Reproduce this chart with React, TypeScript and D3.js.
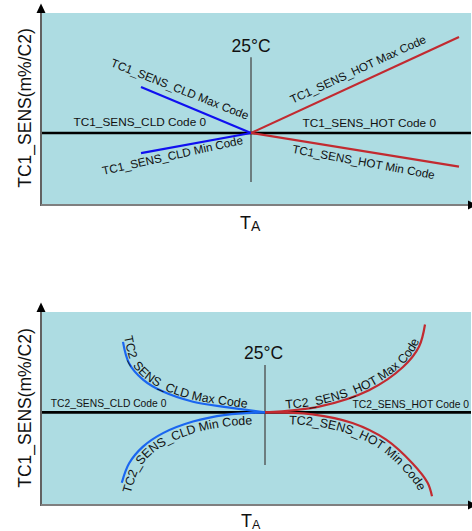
import React, { useEffect, useRef } from 'react';
import * as d3 from 'd3';

const W = 472;
const H = 531;
const FONT = "'Liberation Sans', Arial, Helvetica, sans-serif";

// ---------- Top chart (TC1) data : temperature (°C) vs sensitivity (arbitrary units)
const tc1CldTemps = [-30, 25];
const tc1CldMax = [0.48, 0];
const tc1CldMin = [-0.21, 0];
const tc1HotTemps = [25, 129];
const tc1HotMax = [0, 1.0];
const tc1HotMin = [0, -0.35];

// ---------- Bottom chart (TC2) data
const tc2CldMaxTemps = [-46, -43, -36, -26, -11, 5.5, 25];
const tc2CldMax = [0.73, 0.51, 0.34, 0.215, 0.11, 0.054, 0];
const tc2CldMinTemps = [-46.6, -43, -36, -26, -11, 5.5, 25];
const tc2CldMin = [-0.73, -0.53, -0.355, -0.215, -0.095, -0.026, 0];
const tc2HotMaxTemps = [25, 52, 77, 94, 102, 105];
const tc2HotMax = [0, 0.06, 0.23, 0.47, 0.68, 0.91];
const tc2HotMinTemps = [25, 48.7, 68.7, 85.4, 98.8, 106.3, 108.5];
const tc2HotMin = [0, -0.02, -0.11, -0.28, -0.53, -0.73, -0.87];

const refTemp = 25;
const refLabel = '25°C';
const yLabel = 'TC1_SENS(m%/C2)';

const C_BG = '#addce2';
const C_BLUE1 = '#1010f0';
const C_BLUE2 = '#1a66f0';
const C_RED = '#c22a30';

type Sel = d3.Selection<SVGGElement, unknown, null, undefined>;

function zip(xs: number[], ys: number[]): [number, number][] {
  return xs.map((x, i) => [x, ys[i]]);
}

function offsetPathD(node: SVGPathElement, d: number, ext: number): string {
  const L = node.getTotalLength();
  const pts: { x: number; y: number }[] = [];
  for (let s = 0; s <= L; s += 1) pts.push(node.getPointAtLength(s));
  pts.push(node.getPointAtLength(L));
  const out: [number, number][] = [];
  for (let i = 0; i < pts.length; i++) {
    const a = pts[Math.max(0, i - 2)];
    const b = pts[Math.min(pts.length - 1, i + 2)];
    let dx = b.x - a.x;
    let dy = b.y - a.y;
    const n = Math.hypot(dx, dy) || 1;
    dx /= n;
    dy /= n;
    out.push([pts[i].x + dy * d, pts[i].y - dx * d]);
  }
  const tan = (p: [number, number], q: [number, number]) => {
    const dx = q[0] - p[0];
    const dy = q[1] - p[1];
    const n = Math.hypot(dx, dy) || 1;
    return [dx / n, dy / n];
  };
  const t0 = tan(out[0], out[Math.min(4, out.length - 1)]);
  const t1 = tan(out[Math.max(0, out.length - 5)], out[out.length - 1]);
  const s: [number, number] = [out[0][0] - t0[0] * ext, out[0][1] - t0[1] * ext];
  const e: [number, number] = [
    out[out.length - 1][0] + t1[0] * ext,
    out[out.length - 1][1] + t1[1] * ext,
  ];
  return d3.line()([s, ...out, e]) || '';
}

interface Panel {
  g: Sel;
  x: d3.ScaleLinear<number, number>;
  y: d3.ScaleLinear<number, number>;
}

function drawFrame(root: d3.Selection<SVGSVGElement, unknown, null, undefined>, opts: {
  left: number; right: number; top: number; bottom: number;
  xDomain: [number, number]; yDomain: [number, number];
  labelCenterY: number; taY: number; taX: number; aSize: number;
}): Panel {
  const g = root.append('g');
  const x = d3.scaleLinear().domain(opts.xDomain).range([opts.left, opts.right]);
  const y = d3.scaleLinear().domain(opts.yDomain).range([opts.bottom, opts.top]);
  const [x0, x1] = x.range();
  const [y0, y1] = y.range();
  g.append('rect')
    .attr('x', x0 + 1)
    .attr('y', y1)
    .attr('width', x1 - x0 - 1)
    .attr('height', y0 - y1)
    .attr('fill', C_BG);
  g.append('line')
    .attr('x1', x0).attr('x2', x0)
    .attr('y1', y1).attr('y2', y0 + 1)
    .attr('stroke', '#3a3a3a').attr('stroke-width', 1.6);
  g.append('path')
    .attr('d', `M${x0 - 4.5},${y1} L${x0 + 4.5},${y1} L${x0},${y1 - 9.5} Z`)
    .attr('fill', '#000');
  g.append('line')
    .attr('x1', x0).attr('x2', x1 - 3)
    .attr('y1', y0).attr('y2', y0)
    .attr('stroke', '#7f7f7f').attr('stroke-width', 2);
  g.append('path')
    .attr('d', `M${x1 - 3},${y0 - 4.5} L${x1 - 3},${y0 + 4.5} L${x1 + 6},${y0} Z`)
    .attr('fill', '#000');
  g.append('text')
    .attr('transform', `translate(31,${opts.labelCenterY}) rotate(-90)`)
    .attr('text-anchor', 'middle')
    .attr('font-size', 17.5)
    .attr('fill', '#111')
    .text(yLabel);
  const ta = g.append('text')
    .attr('x', opts.taX)
    .attr('y', opts.taY)
    .attr('fill', '#111');
  ta.append('tspan').attr('font-size', 18).text('T');
  ta.append('tspan').attr('font-size', opts.aSize).attr('dy', 2).text('A');
  return { g, x, y };
}

function drawCommon(p: Panel, refTop: number, refBottom: number, labelY: number, labelDx: number) {
  const { g, x, y } = p;
  g.append('line')
    .attr('x1', x(refTemp)).attr('x2', x(refTemp))
    .attr('y1', y(refTop)).attr('y2', y(refBottom))
    .attr('stroke', '#4a4a4a').attr('stroke-width', 1.3);
  g.append('text')
    .attr('x', x(refTemp) + labelDx)
    .attr('y', y(labelY))
    .attr('text-anchor', 'middle')
    .attr('font-size', 17.5)
    .attr('fill', '#111')
    .text(refLabel);
}

function drawCode0(p: Panel) {
  const { g, x, y } = p;
  const [x0, x1] = x.range();
  g.append('line')
    .attr('x1', x0 + 1).attr('x2', x1)
    .attr('y1', y(0)).attr('y2', y(0))
    .attr('stroke', '#000').attr('stroke-width', 2.6);
}

export default function App() {
  const ref = useRef<SVGSVGElement>(null);
  useEffect(() => {
    if (!ref.current) return;
    const root = d3.select(ref.current);
    root.selectAll('*').remove();

    // ================= TOP =================
    const top = drawFrame(root, {
      left: 41, right: 471, top: 13, bottom: 205,
      xDomain: [-80, 135], yDomain: [-0.75, 1.25],
      labelCenterY: 108, taX: 240, taY: 228.5, aSize: 14,
    });
    drawCommon(top, 0.79, -0.51, 0.84, 0);
    drawCode0(top);
    const line1 = d3.line<[number, number]>().x(d => top.x(d[0])).y(d => top.y(d[1]));
    const topSeries: [number[], number[], string][] = [
      [tc1CldTemps, tc1CldMax, C_BLUE1],
      [tc1CldTemps, tc1CldMin, C_BLUE1],
      [tc1HotTemps, tc1HotMax, C_RED],
      [tc1HotTemps, tc1HotMin, C_RED],
    ];
    topSeries.forEach(([xs, ys, c]) => {
      top.g.append('path')
        .attr('d', line1(zip(xs, ys)) || '')
        .attr('fill', 'none')
        .attr('stroke', c)
        .attr('stroke-width', 2.2);
    });
    const topLabels: [string, number, number, number, number][] = [
      ['TC1_SENS_CLD Max Code', -11.3, 0.417, 21.5, 11.7],
      ['TC1_SENS_CLD Min Code', -13.8, -0.275, -12.5, 11.7],
      ['TC1_SENS_HOT Max Code', 79.4, 0.625, -24.6, 11.7],
      ['TC1_SENS_HOT Min Code', 80.9, -0.344, 10.5, 11.7],
      ['TC1_SENS_CLD Code 0', -30.6, 0.068, 0, 11.8],
      ['TC1_SENS_HOT Code 0', 84.1, 0.06, 0, 11.8],
    ];
    topLabels.forEach(([t, tx, ty, ang, fs]) => {
      top.g.append('text')
        .attr('transform', `translate(${top.x(tx)},${top.y(ty)}) rotate(${ang})`)
        .attr('text-anchor', 'middle')
        .attr('font-size', fs)
        .attr('fill', '#111')
        .text(t);
    });

    // ================= BOTTOM =================
    const bot = drawFrame(root, {
      left: 41, right: 471, top: 312, bottom: 505,
      xDomain: [-87, 128], yDomain: [-0.96, 1.04],
      labelCenterY: 408, taX: 241, taY: 526.5, aSize: 12.5,
    });
    drawCommon(bot, 0.49, -0.545, 0.55, -1.5);
    drawCode0(bot);
    const line2 = d3.line<[number, number]>()
      .x(d => bot.x(d[0])).y(d => bot.y(d[1]))
      .curve(d3.curveCatmullRom.alpha(0.5));
    const botSeries: [number[], number[], string, string, number, number][] = [
      [tc2CldMaxTemps, tc2CldMax, C_BLUE2, 'TC2_SENS_CLD Max Code', 2, 15],
      [tc2CldMinTemps, tc2CldMin, C_BLUE2, 'TC2_SENS_CLD Min Code', -11.5, 12],
      [tc2HotMaxTemps, tc2HotMax, C_RED, 'TC2_SENS_HOT Max Code', 2, 41],
      [tc2HotMinTemps, tc2HotMin, C_RED, 'TC2_SENS_HOT Min Code', -11.5, 44],
    ];
    botSeries.forEach(([xs, ys, c, label, off, start], i) => {
      const p = bot.g.append('path')
        .attr('d', line2(zip(xs, ys)) || '')
        .attr('fill', 'none')
        .attr('stroke', c)
        .attr('stroke-width', 2.2);
      const id = `tp-${i}`;
      const dOff = offsetPathD(p.node() as SVGPathElement, off, 20);
      bot.g.append('path').attr('id', id).attr('d', dOff).attr('fill', 'none').attr('stroke', 'none');
      bot.g.append('text')
        .attr('font-size', 12.4)
        .attr('fill', '#111')
        .append('textPath')
        .attr('href', `#${id}`)
        .attr('startOffset', start)
        .text(label);
    });
    const botLabels: [string, number, number][] = [
      ['TC2_SENS_CLD Code 0', -53.2, 0.059],
      ['TC2_SENS_HOT Code 0', 97.9, 0.042],
    ];
    botLabels.forEach(([t, tx, ty]) => {
      bot.g.append('text')
        .attr('x', bot.x(tx))
        .attr('y', bot.y(ty))
        .attr('text-anchor', 'middle')
        .attr('font-size', 10.3)
        .attr('fill', '#111')
        .text(t);
    });
  }, []);
  return (
    <svg
      ref={ref}
      width={W}
      height={H}
      style={{ position: 'absolute', left: 0, top: 0, fontFamily: FONT, background: '#fff' }}
    />
  );
}
